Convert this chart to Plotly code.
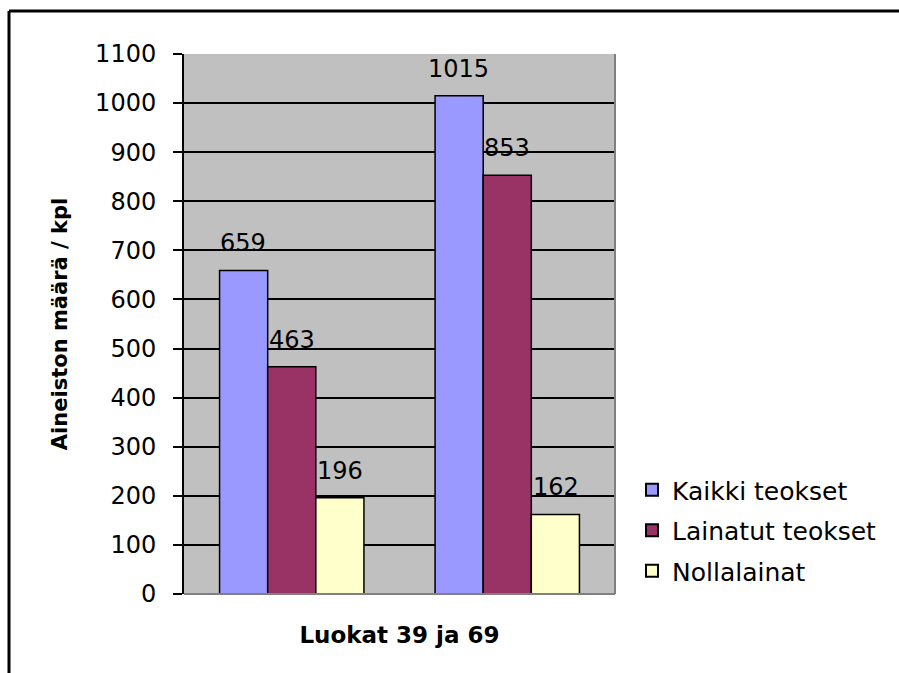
import plotly.graph_objects as go

categories = [0, 1]
series_names = ["Kaikki teokset", "Lainatut teokset", "Nollalainat"]
kaikki = [659, 1015]
lainatut = [463, 853]
nollalainat = [196, 162]
colors = ["#9999FF", "#993366", "#FFFFCC"]
y_ticks = list(range(0, 1101, 100))

FONT = "DejaVu Sans, Arial, sans-serif"
L, R, T, B = 184, 615, 54, 594
W, H = 899, 673

fig = go.Figure()
values = [kaikki, lainatut, nollalainat]
for name, vals, col in zip(series_names, values, colors):
    fig.add_trace(go.Bar(
        x=categories, y=vals, name=name, legendgroup=name,
        marker=dict(color=col, line=dict(color="black", width=1.5)),
    ))

# value labels
bw = 0.224
for i, vals in enumerate(values):
    off = (i - 1) * bw
    for c, v in zip(categories, vals):
        fig.add_annotation(x=c + off, y=v, text=str(v), showarrow=False,
                           yanchor="middle", yshift=27,
                           font=dict(family=FONT, size=24, color="black"))

def px(x):
    return (x - L) / (R - L)

def py(y):
    return (B - y) / (B - T)

shapes = [
    dict(type="line", xref="paper", yref="paper", x0=px(9), x1=px(905), y0=py(11), y1=py(11),
         line=dict(color="black", width=3)),
    dict(type="line", xref="paper", yref="paper", x0=px(9), x1=px(9), y0=py(11), y1=py(680),
         line=dict(color="black", width=3)),
    dict(type="line", xref="paper", yref="paper", x0=1, x1=1, y0=0, y1=1,
         line=dict(color="#808080", width=2)),
    dict(type="line", xref="paper", yref="paper", x0=0, x1=1, y0=0, y1=0,
         line=dict(color="#808080", width=2)),
]

fig.update_layout(
    width=W, height=H,
    margin=dict(l=L, r=W - R, t=T, b=H - B, pad=0),
    paper_bgcolor="white", plot_bgcolor="#C0C0C0",
    barmode="group", bargap=0.33, bargroupgap=0,
    font=dict(family=FONT, size=24, color="black"),
    showlegend=True,
    legend=dict(x=px(632), y=py(467), xanchor="left", yanchor="top",
                font=dict(family=FONT, size=25), itemsizing="constant",
                tracegroupgap=5, bgcolor="rgba(0,0,0,0)"),
    shapes=shapes,
    xaxis=dict(range=[-0.5, 1.5], showticklabels=False, showgrid=False, zeroline=False,
               ticks="", fixedrange=True,
               title=dict(text="<b>Luokat 39 ja 69</b>", font=dict(family=FONT, size=23), standoff=32)),
    yaxis=dict(range=[0, 1100], tickvals=y_ticks, showgrid=True, gridcolor="black", gridwidth=1.5,
               zeroline=False, showline=True, linecolor="black", linewidth=2,
               ticks="outside", ticklen=9, tickcolor="black", tickwidth=2,
               ticklabelstandoff=12,
               tickfont=dict(family=FONT, size=24),
               title=dict(text="<b>Aineiston määrä / kpl</b>", font=dict(family=FONT, size=21), standoff=22)),
)

fig.write_html("out.html", config={"displayModeBar": False},
               post_script="document.body.style.margin='0';")
